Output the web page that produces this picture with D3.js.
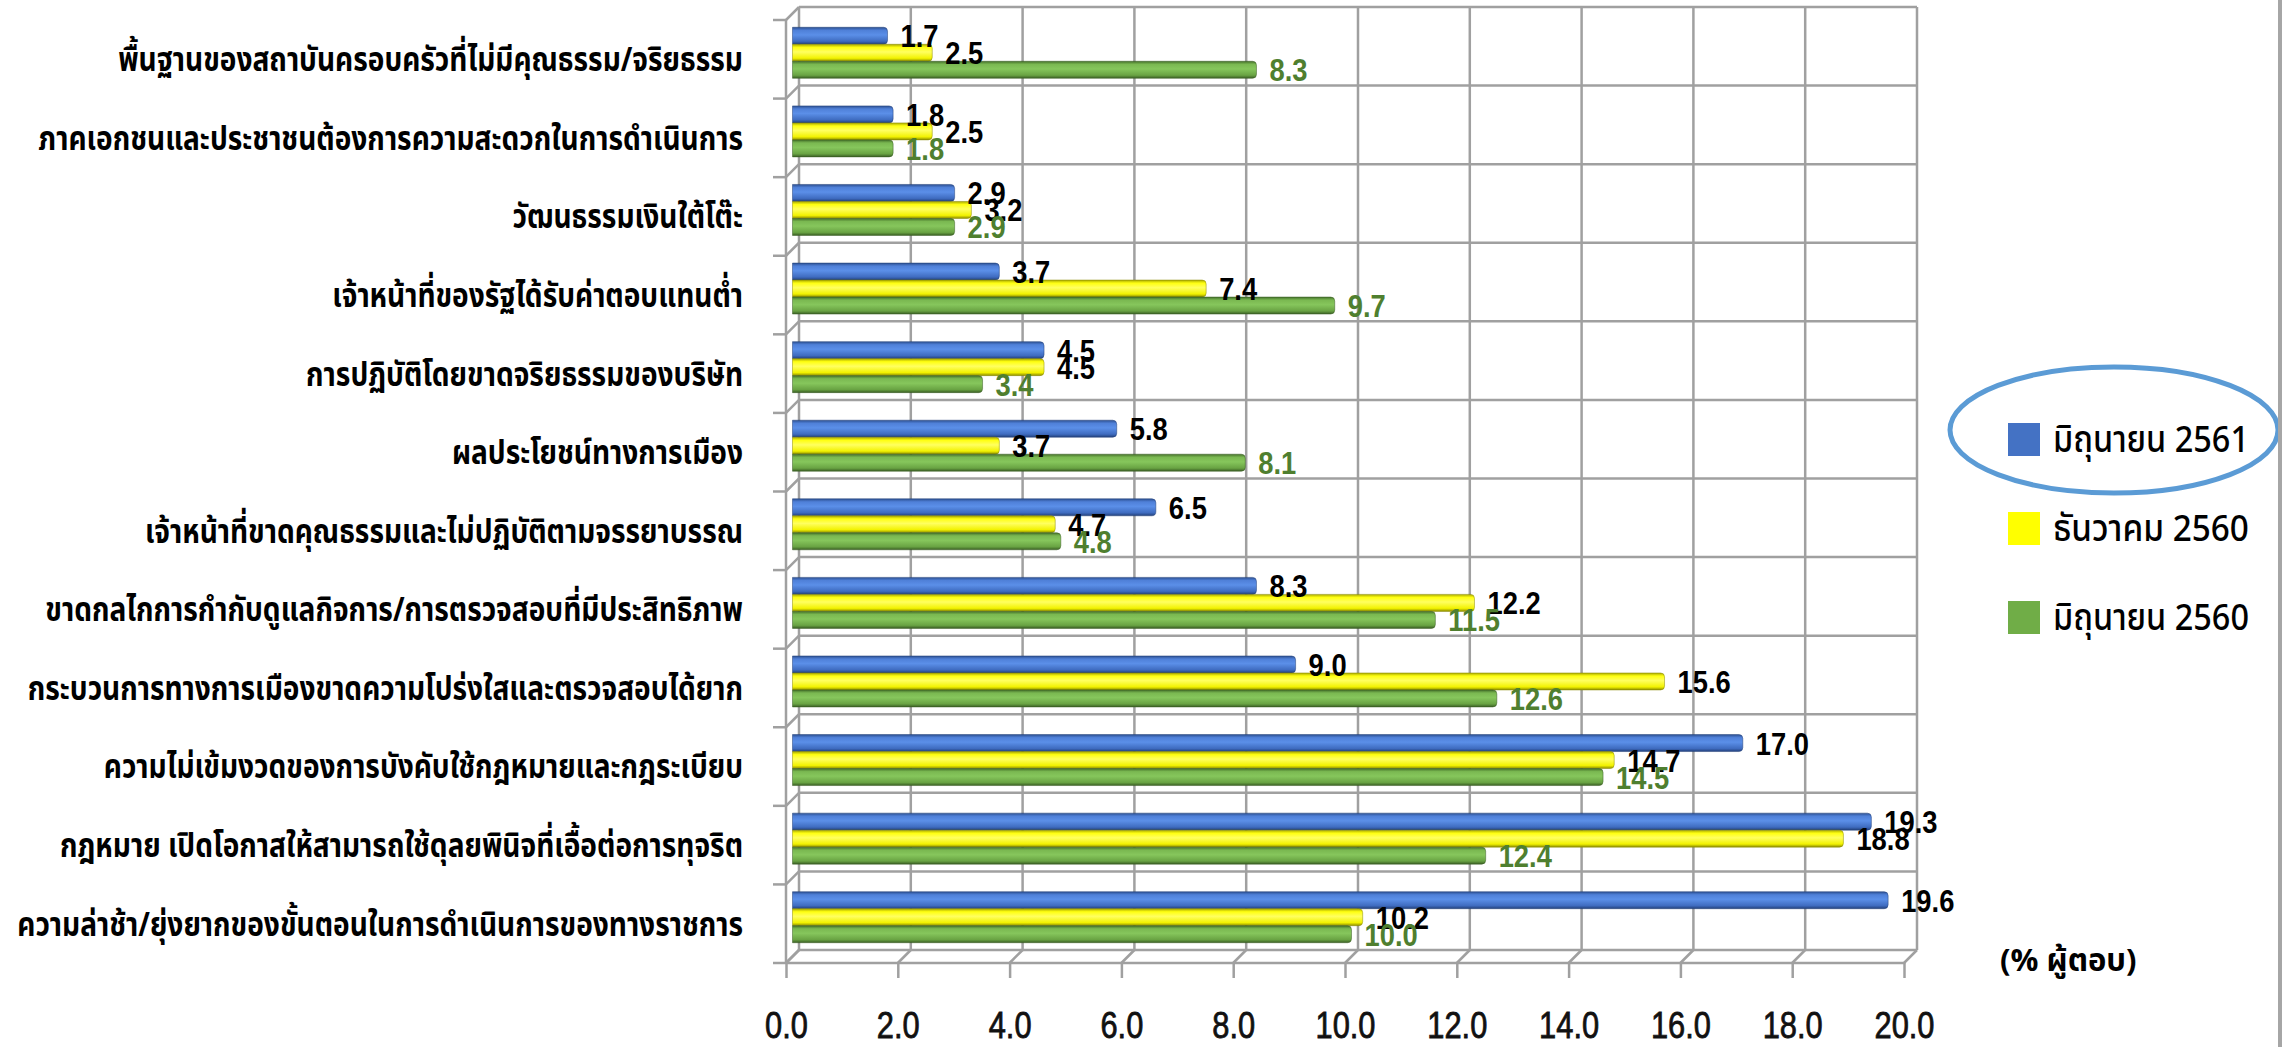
<!DOCTYPE html>
<html>
<head>
<meta charset="utf-8">
<script src="https://cdn.jsdelivr.net/npm/d3@7"></script>
<style>
  body { margin: 0; background: #fff; }
  svg { display: block; }
  .thai { font-family: "Noto Sans Thai", "Noto Sans Thai UI", "Loma", "Garuda", "Noto Sans", sans-serif; }
  .num { font-family: "Liberation Sans Narrow", "Liberation Sans", "Arial", sans-serif; }
</style>
</head>
<body>
<svg id="chart" width="2284" height="1047"></svg>
<script>
const categories = [
  "พื้นฐานของสถาบันครอบครัวที่ไม่มีคุณธรรม/จริยธรรม",
  "ภาคเอกชนและประชาชนต้องการความสะดวกในการดำเนินการ",
  "วัฒนธรรมเงินใต้โต๊ะ",
  "เจ้าหน้าที่ของรัฐได้รับค่าตอบแทนต่ำ",
  "การปฏิบัติโดยขาดจริยธรรมของบริษัท",
  "ผลประโยชน์ทางการเมือง",
  "เจ้าหน้าที่ขาดคุณธรรมและไม่ปฏิบัติตามจรรยาบรรณ",
  "ขาดกลไกการกำกับดูแลกิจการ/การตรวจสอบที่มีประสิทธิภาพ",
  "กระบวนการทางการเมืองขาดความโปร่งใสและตรวจสอบได้ยาก",
  "ความไม่เข้มงวดของการบังคับใช้กฎหมายและกฎระเบียบ",
  "กฎหมาย เปิดโอกาสให้สามารถใช้ดุลยพินิจที่เอื้อต่อการทุจริต",
  "ความล่าช้า/ยุ่งยากของขั้นตอนในการดำเนินการของทางราชการ"
];
const seriesNames = ["มิถุนายน 2561", "ธันวาคม 2560", "มิถุนายน 2560"];
const jun2561 = [1.7, 1.8, 2.9, 3.7, 4.5, 5.8, 6.5, 8.3, 9.0, 17.0, 19.3, 19.6];
const dec2560 = [2.5, 2.5, 3.2, 7.4, 4.5, 3.7, 4.7, 12.2, 15.6, 14.7, 18.8, 10.2];
const jun2560 = [8.3, 1.8, 2.9, 9.7, 3.4, 8.1, 4.8, 11.5, 12.6, 14.5, 12.4, 10.0];
const xTicks = [0, 2, 4, 6, 8, 10, 12, 14, 16, 18, 20];
const unitLabel = "(% ผู้ตอบ)";

const seriesValues = [jun2561, dec2560, jun2560];
const barColors = ["#4472c4", "#ffff00", "#70ad47"];
const labelColors = ["#000", "#000", "#4f7f2f"];

const svg = d3.select("#chart");
const depth = 13; // 3d offset of the back wall
const fmt = d3.format(".1f");

const x = d3.scaleLinear().domain([0, 20]).range([786, 1904]);
const y = d3.scaleBand().domain(categories).range([20, 963]);
const ySeries = d3.scaleBand().domain(seriesNames).range([0, 51]);

// measure how wide the number font is, to squeeze it to the narrow look
function widthOf(txt, size, cls, weight) {
  const t = svg.append("text").attr("class", cls).attr("font-size", size)
    .attr("font-weight", weight || "normal").text(txt);
  const w = t.node().getComputedTextLength();
  t.remove();
  return w;
}
const tickScale = Math.min(1, 60 / widthOf("20.0", 37, "num"));
const valScale = Math.min(1, 38 / widthOf("8.3", 32, "num", "bold"));

// gradients for the shaded bars
const defs = svg.append("defs");
const shades = [
  ["#2c4f90", "#4f80d8", "#5b8fe8", "#3f6cc0", "#22407a"],
  ["#a8a800", "#ffff10", "#ffff60", "#f2f200", "#8c8c00"],
  ["#44702a", "#7ab851", "#86c65c", "#69a343", "#3a5e24"]
];
shades.forEach((s, i) => {
  const g = defs.append("linearGradient")
    .attr("id", "grad" + i)
    .attr("x1", 0).attr("y1", 0).attr("x2", 0).attr("y2", 1);
  [0, 0.18, 0.45, 0.82, 1].forEach((o, j) => {
    g.append("stop").attr("offset", o).attr("stop-color", s[j]);
  });
});

const grid = svg.append("g")
  .attr("stroke", "#a0a0a0")
  .attr("stroke-width", 2.5)
  .attr("fill", "none");

const yTop = y.range()[0];
const yBottom = y.range()[1];
const boundaries = categories.map(c => y(c)).concat([yBottom]);

// back wall vertical gridlines
grid.selectAll(".vg").data(xTicks).join("line")
  .attr("x1", d => x(d) + depth).attr("x2", d => x(d) + depth)
  .attr("y1", yTop - depth).attr("y2", yBottom - depth);

// back wall horizontal gridlines
grid.selectAll(".hg").data(boundaries).join("line")
  .attr("x1", x(0) + depth).attr("x2", x(20) + depth)
  .attr("y1", d => d - depth).attr("y2", d => d - depth);

// left wall diagonals + ticks
grid.selectAll(".ld").data(boundaries).join("line")
  .attr("x1", x(0)).attr("x2", x(0) + depth)
  .attr("y1", d => d).attr("y2", d => d - depth);
grid.selectAll(".lt").data(boundaries).join("line")
  .attr("x1", x(0) - 13).attr("x2", x(0))
  .attr("y1", d => d).attr("y2", d => d);
grid.append("line")
  .attr("x1", x(0)).attr("x2", x(0))
  .attr("y1", yTop).attr("y2", yBottom);

// floor diagonals and bottom edge
grid.selectAll(".fd").data(xTicks).join("line")
  .attr("x1", d => x(d)).attr("x2", d => x(d) + depth)
  .attr("y1", yBottom).attr("y2", yBottom - depth);
grid.append("line")
  .attr("x1", x(0)).attr("x2", x(20))
  .attr("y1", yBottom).attr("y2", yBottom);

// x axis
const xAxis = svg.append("g")
  .attr("transform", `translate(0,${yBottom})`)
  .call(d3.axisBottom(x).tickValues(xTicks).tickFormat(fmt)
    .tickSize(15).tickPadding(34));
xAxis.select(".domain").remove();
xAxis.selectAll(".tick line").attr("stroke", "#a0a0a0").attr("stroke-width", 2.5);
xAxis.selectAll("text")
  .attr("class", "num")
  .attr("font-size", 37)
  .attr("fill", "#111")
  .attr("stroke", "#111")
  .attr("stroke-width", 0.8)
  .attr("transform", `scale(${tickScale},1)`);

// bars
const half = depth / 2;
const groupOffset = (y.bandwidth() - 51) / 2 - half;
const barLayer = svg.append("g");
const labelLayer = svg.append("g").attr("class", "num")
  .attr("font-size", 32).attr("font-weight", "bold");

seriesValues.forEach((vals, si) => {
  barLayer.selectAll(".bar" + si).data(vals).join("path")
    .attr("d", (v, i) => {
      const x0 = x(0) + half;
      const x1 = x(v) + half;
      const top = y(categories[i]) + groupOffset + ySeries(seriesNames[si]);
      const h = ySeries.bandwidth();
      const r = 4;
      return `M${x0},${top}H${x1 - r}Q${x1},${top} ${x1},${top + r}` +
        `V${top + h - r}Q${x1},${top + h} ${x1 - r},${top + h}H${x0}Z`;
    })
    .attr("fill", `url(#grad${si})`)
    .attr("stroke", shades[si][4])
    .attr("stroke-opacity", 0.5)
    .attr("stroke-width", 1);

  labelLayer.selectAll(".lab" + si).data(vals).join("text")
    .attr("transform", (v, i) => {
      const tx = x(v) + half + 13;
      const ty = y(categories[i]) + groupOffset + ySeries(seriesNames[si]) + ySeries.bandwidth() / 2;
      return `translate(${tx},${ty}) scale(${valScale},1)`;
    })
    .attr("dy", "0.36em")
    .attr("fill", labelColors[si])
    .text(v => fmt(v));
});

// category labels, squeezed to the reference width
const catLayer = svg.append("g").attr("class", "thai").attr("font-size", 34).attr("font-weight", "bold");
const catTexts = catLayer.selectAll("text").data(categories).join("text")
  .attr("text-anchor", "end")
  .attr("dy", "0.35em")
  .attr("fill", "#000")
  .text(d => d);
const maxLen = d3.max(catTexts.nodes(), n => n.getComputedTextLength());
const sx = Math.min(1, 726 / maxLen);
catTexts.attr("transform", d => `translate(743,${y(d) + y.bandwidth() / 2}) scale(${sx},1)`);

// legend
const legend = svg.append("g");
seriesNames.forEach((name, i) => {
  const cy = 439 + i * 89;
  legend.append("rect")
    .attr("x", 2008).attr("y", cy - 16)
    .attr("width", 32).attr("height", 33)
    .attr("fill", barColors[i]);
  const t = legend.append("text")
    .attr("class", "thai")
    .attr("font-size", 37)
    .attr("font-weight", 500)
    .attr("dy", "0.35em")
    .attr("fill", "#000")
    .text(name);
  const w = t.node().getComputedTextLength();
  t.attr("transform", `translate(2053,${cy}) scale(${Math.min(1, 196 / w)},1)`);
});
legend.append("ellipse")
  .attr("cx", 2114).attr("cy", 430)
  .attr("rx", 164).attr("ry", 63)
  .attr("fill", "none")
  .attr("stroke", "#5b9bd5")
  .attr("stroke-width", 5);

// unit label
const unit = svg.append("text")
  .attr("class", "thai")
  .attr("font-size", 31)
  .attr("font-weight", "bold")
  .attr("dy", "0.35em")
  .text(unitLabel);
const uw = unit.node().getComputedTextLength();
unit.attr("transform", `translate(2000,960) scale(${Math.min(1, 152 / uw)},1)`);

// right frame line
svg.append("line")
  .attr("x1", 2280).attr("x2", 2280)
  .attr("y1", 0).attr("y2", 1047)
  .attr("stroke", "#a6a6a6")
  .attr("stroke-width", 4);
</script>
</body>
</html>
